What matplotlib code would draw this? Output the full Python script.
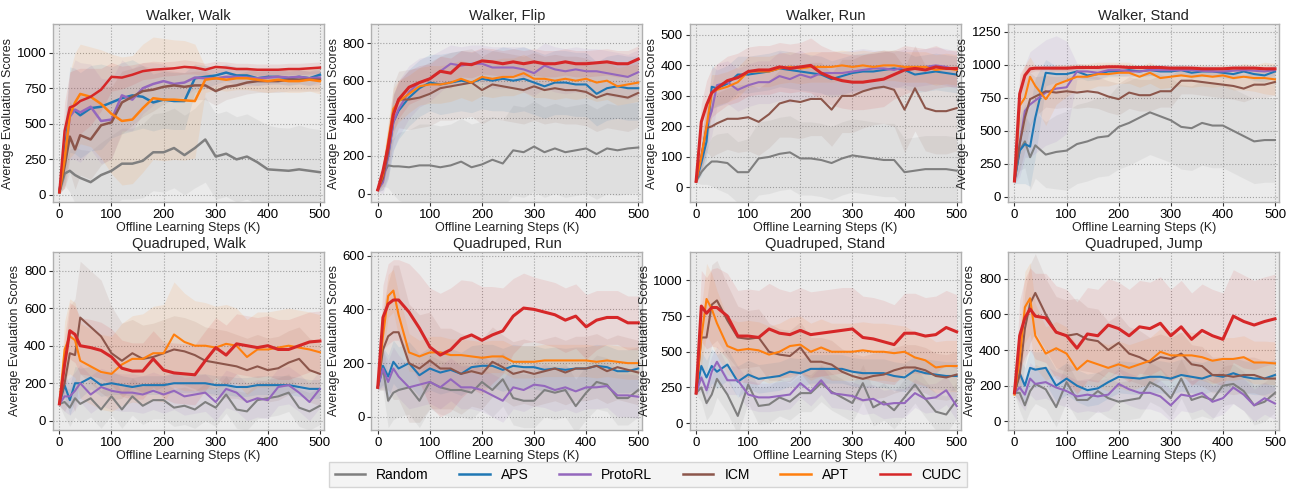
import numpy as np
import matplotlib
matplotlib.use('Agg')
import matplotlib.pyplot as plt

plt.rcParams['font.family'] = ['Liberation Sans', 'DejaVu Sans']

# training steps (K)
steps = [0, 10, 20, 30, 40, 60, 80, 100, 120, 140, 160, 180, 200, 220,
         240, 260, 280, 300, 320, 340, 360, 380, 400, 420, 440, 460, 480, 500]

methods = ['Random', 'APS', 'ProtoRL', 'ICM', 'APT', 'CUDC']
colors = ['#7f7f7f', '#1f77b4', '#9467bd', '#8c564b', '#ff7f0e', '#d62728']

titles = ['Walker, Walk', 'Walker, Flip', 'Walker, Run', 'Walker, Stand',
          'Quadruped, Walk', 'Quadruped, Run', 'Quadruped, Stand', 'Quadruped, Jump']

# ---- Walker, Walk
ww_random = [20, 150, 170, 140, 120, 90, 140, 170, 220, 220, 240, 300, 300, 330, 280, 330, 390, 270, 290, 250, 270, 230, 180, 175, 170, 180, 170, 160]
ww_aps = [20, 300, 600, 590, 560, 610, 620, 650, 680, 700, 690, 650, 670, 660, 660, 820, 830, 840, 860, 840, 840, 820, 830, 830, 820, 830, 820, 845]
ww_proto = [20, 250, 550, 600, 580, 620, 520, 530, 700, 670, 750, 780, 800, 780, 790, 825, 820, 820, 830, 830, 825, 820, 825, 830, 825, 830, 820, 825]
ww_icm = [20, 200, 410, 320, 420, 390, 490, 510, 650, 690, 730, 740, 760, 770, 760, 770, 770, 730, 760, 770, 790, 800, 800, 800, 810, 810, 810, 810]
ww_apt = [20, 250, 560, 650, 710, 690, 640, 570, 520, 530, 610, 680, 670, 670, 665, 660, 810, 820, 810, 820, 820, 810, 800, 810, 800, 800, 810, 800]
ww_cudc = [20, 450, 615, 630, 660, 690, 740, 830, 825, 845, 870, 880, 885, 890, 900, 895, 880, 900, 895, 885, 885, 880, 880, 880, 885, 885, 890, 895]
ww_random_sd = [10, 80, 150, 200, 200, 220, 230, 250, 250, 250, 260, 270, 280, 280, 280, 280, 300, 300, 300, 300, 300, 300, 310, 300, 300, 310, 300, 300]
ww_aps_sd = [10, 200, 300, 300, 300, 300, 300, 250, 250, 250, 220, 200, 200, 200, 200, 100, 80, 60, 60, 60, 60, 50, 50, 50, 50, 50, 50, 50]
ww_proto_sd = [10, 200, 300, 350, 350, 300, 300, 280, 250, 220, 180, 150, 120, 100, 100, 80, 70, 60, 60, 60, 60, 50, 50, 50, 50, 50, 50, 50]
ww_icm_sd = [10, 150, 250, 280, 280, 280, 280, 250, 220, 200, 180, 150, 120, 100, 100, 100, 100, 100, 90, 80, 80, 80, 80, 80, 80, 80, 80, 80]
ww_apt_sd = [10, 200, 300, 350, 350, 350, 380, 420, 450, 450, 450, 430, 430, 420, 420, 400, 90, 80, 80, 80, 80, 80, 80, 80, 80, 80, 80, 90]
ww_cudc_sd = [10, 200, 250, 250, 230, 200, 150, 100, 80, 70, 60, 60, 50, 50, 50, 45, 45, 40, 40, 40, 40, 40, 40, 40, 40, 40, 40, 40]

# ---- Walker, Flip
wf_random = [20, 100, 150, 145, 145, 140, 150, 150, 140, 150, 170, 140, 155, 180, 160, 230, 220, 250, 220, 240, 220, 230, 240, 210, 240, 230, 240, 245]
wf_aps = [20, 80, 200, 380, 440, 510, 560, 590, 580, 590, 600, 590, 610, 600, 610, 600, 610, 590, 570, 590, 590, 580, 580, 530, 560, 570, 560, 560]
wf_proto = [20, 60, 200, 380, 450, 540, 590, 610, 650, 690, 680, 690, 690, 670, 670, 670, 660, 640, 680, 660, 650, 660, 650, 650, 640, 630, 620, 645]
wf_icm = [20, 80, 220, 430, 500, 500, 510, 530, 560, 570, 580, 590, 550, 580, 570, 560, 550, 570, 550, 560, 550, 550, 540, 510, 530, 520, 510, 535]
wf_apt = [20, 100, 280, 450, 490, 530, 570, 580, 580, 590, 610, 590, 620, 610, 620, 620, 640, 610, 610, 600, 610, 600, 610, 590, 600, 570, 580, 590]
wf_cudc = [20, 120, 250, 420, 500, 565, 590, 610, 650, 640, 690, 685, 705, 700, 690, 700, 690, 700, 690, 690, 700, 690, 690, 695, 700, 690, 690, 715]
wf_random_sd = [10, 60, 120, 150, 180, 200, 220, 220, 220, 220, 230, 230, 230, 230, 230, 240, 240, 240, 240, 240, 240, 240, 240, 240, 240, 240, 240, 240]
wf_aps_sd = [10, 60, 120, 150, 150, 150, 150, 150, 160, 160, 160, 160, 160, 160, 170, 170, 170, 170, 170, 170, 170, 170, 170, 170, 170, 170, 170, 170]
wf_proto_sd = [10, 60, 120, 150, 150, 140, 130, 120, 110, 100, 100, 100, 100, 110, 110, 110, 120, 120, 120, 120, 120, 120, 120, 120, 120, 120, 120, 120]
wf_icm_sd = [10, 60, 120, 150, 150, 160, 160, 170, 170, 180, 180, 180, 180, 180, 180, 180, 180, 180, 180, 180, 180, 180, 180, 180, 180, 180, 180, 180]
wf_apt_sd = [10, 60, 100, 110, 110, 100, 100, 100, 100, 100, 100, 100, 100, 100, 100, 100, 100, 100, 100, 100, 100, 100, 100, 100, 100, 100, 100, 100]
wf_cudc_sd = [10, 60, 100, 100, 100, 90, 90, 80, 80, 80, 70, 70, 70, 70, 70, 70, 70, 70, 70, 70, 70, 70, 70, 70, 70, 70, 70, 70]

# ---- Walker, Run
wr_random = [20, 50, 70, 85, 85, 80, 50, 50, 95, 100, 110, 115, 95, 95, 90, 80, 95, 105, 100, 95, 90, 90, 50, 55, 60, 60, 60, 55]
wr_aps = [20, 80, 150, 330, 325, 340, 370, 370, 375, 380, 390, 385, 380, 375, 370, 355, 365, 375, 380, 380, 385, 390, 385, 370, 375, 380, 375, 370]
wr_proto = [20, 100, 200, 250, 335, 345, 320, 335, 345, 345, 365, 355, 370, 360, 375, 375, 375, 380, 385, 390, 390, 385, 395, 390, 395, 400, 395, 385]
wr_icm = [20, 100, 195, 200, 210, 225, 225, 230, 215, 240, 275, 285, 280, 290, 290, 255, 300, 300, 315, 325, 330, 320, 255, 325, 260, 250, 250, 260]
wr_apt = [20, 100, 200, 310, 320, 330, 345, 380, 380, 380, 390, 395, 390, 395, 395, 395, 400, 395, 400, 395, 400, 400, 395, 395, 395, 385, 390, 385]
wr_cudc = [20, 215, 270, 310, 325, 350, 360, 380, 385, 385, 395, 390, 395, 400, 375, 360, 350, 345, 345, 350, 355, 370, 385, 390, 385, 395, 390, 390]
wr_random_sd = [5, 40, 60, 80, 90, 100, 100, 110, 120, 120, 120, 120, 120, 120, 120, 120, 120, 120, 120, 120, 120, 120, 110, 110, 110, 110, 110, 110]
wr_aps_sd = [5, 40, 60, 70, 60, 60, 60, 60, 60, 60, 60, 60, 60, 60, 60, 60, 60, 60, 60, 60, 60, 60, 60, 60, 60, 60, 60, 60]
wr_proto_sd = [5, 50, 80, 80, 70, 70, 70, 70, 70, 70, 80, 80, 80, 70, 70, 70, 70, 70, 70, 60, 60, 60, 60, 60, 60, 60, 60, 60]
wr_icm_sd = [5, 50, 80, 100, 100, 100, 110, 110, 110, 110, 110, 120, 120, 120, 120, 120, 120, 120, 120, 120, 120, 120, 140, 140, 140, 140, 140, 140]
wr_apt_sd = [5, 50, 70, 60, 50, 50, 50, 50, 50, 50, 50, 50, 50, 50, 50, 50, 50, 50, 50, 50, 50, 50, 50, 50, 50, 50, 50, 50]
wr_cudc_sd = [5, 60, 80, 80, 80, 80, 80, 80, 80, 80, 80, 80, 80, 90, 90, 90, 90, 90, 90, 90, 90, 80, 80, 70, 70, 70, 60, 60]

# ---- Walker, Stand
ws_random = [120, 350, 420, 300, 390, 320, 340, 350, 400, 420, 450, 460, 530, 560, 600, 640, 610, 580, 530, 520, 560, 540, 540, 500, 460, 420, 430, 430]
ws_aps = [120, 350, 400, 380, 600, 940, 930, 930, 950, 920, 930, 950, 950, 960, 950, 960, 950, 950, 960, 940, 950, 950, 940, 930, 950, 930, 920, 950]
ws_proto = [120, 400, 650, 700, 730, 790, 820, 830, 950, 950, 940, 960, 960, 950, 950, 960, 960, 960, 960, 960, 955, 950, 950, 955, 960, 955, 950, 960]
ws_icm = [120, 400, 600, 740, 760, 800, 790, 800, 790, 800, 790, 760, 740, 790, 770, 770, 800, 800, 880, 880, 870, 860, 850, 840, 820, 850, 850, 870]
ws_apt = [120, 690, 750, 910, 840, 740, 850, 880, 910, 910, 930, 930, 940, 940, 910, 940, 900, 910, 920, 910, 920, 910, 920, 900, 910, 900, 900, 890]
ws_cudc = [120, 780, 920, 970, 975, 975, 975, 975, 980, 980, 980, 985, 985, 980, 980, 980, 980, 975, 975, 975, 970, 970, 970, 975, 975, 975, 970, 970]
ws_random_sd = [20, 150, 200, 250, 250, 250, 280, 300, 300, 300, 300, 300, 320, 320, 320, 320, 320, 320, 320, 320, 320, 320, 320, 320, 320, 320, 320, 320]
ws_aps_sd = [20, 250, 300, 300, 300, 100, 60, 50, 40, 40, 40, 40, 40, 40, 40, 40, 40, 40, 40, 40, 40, 40, 40, 40, 40, 50, 50, 50]
ws_proto_sd = [20, 250, 350, 400, 400, 400, 400, 350, 60, 50, 50, 40, 40, 40, 40, 40, 40, 40, 40, 40, 40, 40, 40, 40, 40, 40, 40, 40]
ws_icm_sd = [20, 200, 250, 200, 150, 120, 120, 120, 120, 120, 120, 120, 120, 120, 120, 120, 120, 120, 100, 100, 100, 100, 100, 100, 100, 100, 100, 100]
ws_apt_sd = [20, 200, 250, 150, 150, 200, 150, 120, 100, 100, 90, 90, 80, 80, 80, 80, 80, 80, 80, 80, 80, 80, 80, 90, 100, 100, 120, 120]
ws_cudc_sd = [20, 150, 80, 30, 20, 20, 20, 20, 20, 20, 20, 20, 20, 20, 20, 20, 20, 20, 20, 20, 20, 20, 20, 20, 20, 20, 20, 20]

# ---- Quadruped, Walk
qw_random = [90, 100, 70, 120, 90, 120, 60, 130, 60, 130, 80, 110, 110, 70, 80, 60, 100, 70, 140, 60, 50, 110, 120, 130, 150, 70, 50, 80]
qw_aps = [90, 190, 110, 200, 200, 230, 190, 200, 190, 180, 190, 190, 190, 200, 200, 200, 200, 190, 190, 180, 180, 190, 190, 190, 190, 180, 170, 170]
qw_proto = [90, 130, 130, 160, 200, 140, 180, 160, 150, 150, 140, 160, 140, 160, 130, 140, 150, 100, 170, 150, 100, 120, 110, 180, 190, 150, 100, 170]
qw_icm = [90, 200, 360, 350, 550, 500, 450, 360, 320, 360, 330, 340, 360, 380, 370, 350, 320, 310, 300, 290, 270, 290, 270, 280, 310, 330, 270, 250]
qw_apt = [90, 380, 450, 430, 320, 290, 260, 250, 300, 330, 330, 360, 360, 460, 420, 400, 400, 390, 410, 400, 340, 380, 380, 390, 400, 390, 380, 365]
qw_cudc = [90, 300, 480, 460, 400, 390, 375, 340, 280, 265, 265, 330, 270, 255, 250, 245, 320, 390, 350, 410, 400, 390, 400, 380, 380, 400, 420, 425]
qw_random_sd = [10, 80, 100, 100, 100, 100, 100, 100, 100, 100, 100, 100, 100, 100, 100, 100, 100, 100, 100, 100, 100, 100, 100, 100, 100, 100, 100, 100]
qw_aps_sd = [10, 60, 80, 90, 80, 60, 60, 60, 50, 50, 50, 50, 50, 50, 50, 50, 50, 50, 50, 50, 50, 50, 50, 50, 50, 50, 50, 50]
qw_proto_sd = [10, 80, 100, 100, 100, 100, 100, 100, 100, 100, 100, 100, 100, 100, 100, 100, 100, 100, 100, 100, 100, 100, 100, 100, 100, 100, 100, 100]
qw_icm_sd = [10, 150, 250, 300, 300, 300, 300, 250, 200, 180, 180, 180, 180, 180, 180, 180, 180, 180, 180, 170, 170, 170, 170, 170, 170, 170, 170, 170]
qw_apt_sd = [10, 150, 200, 200, 200, 200, 200, 200, 220, 230, 240, 250, 260, 280, 260, 240, 230, 220, 210, 200, 200, 200, 200, 200, 200, 200, 200, 200]
qw_cudc_sd = [10, 150, 150, 150, 150, 150, 150, 150, 150, 150, 150, 150, 150, 160, 160, 160, 160, 160, 160, 160, 160, 160, 160, 160, 160, 160, 160, 160]

# ---- Quadruped, Run
qr_random = [110, 180, 60, 90, 100, 110, 60, 130, 110, 100, 100, 90, 130, 100, 140, 70, 60, 60, 100, 90, 100, 40, 90, 130, 120, 70, 70, 100]
qr_aps = [110, 190, 150, 205, 180, 200, 155, 180, 165, 175, 160, 185, 190, 190, 175, 190, 185, 185, 175, 180, 175, 180, 180, 190, 185, 170, 170, 180]
qr_proto = [110, 180, 130, 180, 150, 110, 120, 130, 110, 140, 110, 110, 100, 80, 60, 110, 100, 120, 115, 100, 110, 95, 110, 110, 115, 80, 80, 75]
qr_icm = [110, 250, 300, 315, 315, 200, 180, 210, 180, 180, 160, 170, 160, 205, 185, 160, 170, 160, 170, 180, 165, 180, 180, 190, 170, 185, 175, 165]
qr_apt = [110, 300, 450, 470, 380, 240, 225, 240, 240, 230, 230, 225, 220, 225, 225, 205, 205, 205, 210, 210, 210, 210, 210, 205, 210, 205, 200, 200]
qr_cudc = [110, 370, 420, 435, 435, 390, 330, 260, 230, 250, 290, 305, 285, 305, 320, 375, 405, 400, 390, 380, 360, 375, 335, 360, 370, 370, 350, 350]
qr_random_sd = [10, 80, 100, 100, 100, 100, 100, 100, 100, 100, 100, 100, 100, 100, 100, 100, 100, 100, 100, 100, 100, 100, 100, 100, 100, 100, 100, 100]
qr_aps_sd = [10, 70, 80, 80, 80, 80, 80, 80, 80, 80, 80, 80, 80, 80, 80, 80, 80, 80, 80, 80, 80, 80, 80, 80, 80, 80, 80, 80]
qr_proto_sd = [10, 70, 80, 80, 80, 80, 80, 80, 80, 80, 80, 80, 80, 80, 80, 80, 80, 80, 80, 80, 80, 80, 80, 80, 80, 80, 80, 80]
qr_icm_sd = [10, 150, 200, 250, 250, 220, 200, 180, 150, 150, 150, 130, 130, 130, 120, 120, 120, 120, 120, 120, 120, 120, 120, 120, 120, 120, 120, 120]
qr_apt_sd = [10, 80, 80, 80, 80, 70, 60, 60, 60, 60, 60, 60, 60, 60, 60, 60, 60, 60, 60, 60, 60, 60, 60, 60, 60, 60, 60, 60]
qr_cudc_sd = [10, 120, 150, 150, 150, 180, 200, 220, 230, 230, 220, 200, 200, 180, 160, 140, 130, 120, 120, 120, 120, 120, 120, 110, 100, 100, 100, 100]

# ---- Quadruped, Stand
qs_random = [210, 250, 140, 200, 310, 200, 50, 270, 120, 130, 180, 150, 210, 210, 280, 220, 180, 140, 280, 110, 150, 90, 180, 270, 170, 80, 60, 160]
qs_aps = [210, 400, 320, 400, 360, 410, 290, 340, 310, 320, 330, 360, 350, 380, 380, 380, 380, 360, 350, 350, 350, 330, 320, 370, 350, 340, 330, 330]
qs_proto = [210, 320, 230, 360, 430, 300, 300, 200, 180, 180, 190, 200, 280, 220, 300, 210, 200, 190, 160, 170, 130, 140, 140, 210, 170, 180, 230, 120]
qs_icm = [210, 600, 600, 830, 860, 720, 600, 590, 600, 500, 480, 470, 530, 430, 430, 410, 360, 330, 310, 330, 340, 370, 390, 390, 370, 330, 320, 340]
qs_apt = [210, 600, 870, 800, 700, 540, 510, 520, 510, 480, 500, 540, 550, 500, 530, 500, 500, 500, 510, 500, 500, 490, 500, 460, 440, 390, 400, 400]
qs_cudc = [210, 820, 770, 810, 810, 750, 610, 610, 600, 660, 630, 620, 650, 620, 630, 640, 650, 660, 600, 590, 570, 550, 630, 630, 610, 620, 670, 640]
qs_random_sd = [10, 100, 120, 130, 130, 130, 130, 130, 130, 130, 130, 130, 130, 130, 130, 130, 130, 130, 130, 130, 130, 130, 130, 130, 130, 130, 130, 130]
qs_aps_sd = [10, 100, 120, 120, 120, 110, 110, 100, 100, 100, 100, 100, 100, 100, 100, 100, 100, 100, 100, 100, 100, 100, 100, 100, 100, 100, 100, 100]
qs_proto_sd = [10, 100, 110, 110, 110, 100, 100, 100, 100, 100, 100, 100, 100, 100, 100, 100, 100, 100, 100, 100, 100, 100, 100, 100, 100, 100, 100, 100]
qs_icm_sd = [10, 200, 250, 280, 280, 250, 220, 200, 200, 200, 180, 180, 180, 170, 170, 170, 160, 160, 160, 160, 160, 160, 160, 160, 160, 160, 160, 160]
qs_apt_sd = [10, 200, 250, 250, 230, 200, 200, 200, 200, 200, 200, 200, 200, 200, 200, 200, 200, 200, 200, 200, 200, 200, 180, 180, 180, 180, 180, 180]
qs_cudc_sd = [10, 250, 250, 270, 280, 300, 320, 330, 330, 320, 310, 300, 300, 300, 300, 300, 300, 290, 290, 290, 290, 280, 280, 280, 270, 270, 260, 260]

# ---- Quadruped, Jump
qj_random = [160, 160, 90, 170, 210, 180, 80, 220, 120, 120, 170, 130, 110, 120, 130, 220, 190, 130, 240, 120, 140, 120, 200, 210, 170, 90, 110, 160]
qj_aps = [160, 270, 200, 300, 290, 300, 200, 240, 200, 175, 185, 220, 250, 245, 240, 250, 250, 240, 260, 250, 240, 260, 250, 270, 250, 240, 240, 260]
qj_proto = [160, 190, 150, 240, 210, 220, 190, 170, 140, 150, 140, 150, 210, 180, 160, 160, 140, 90, 150, 140, 160, 110, 130, 190, 150, 90, 130, 100]
qj_icm = [160, 260, 520, 660, 720, 600, 500, 480, 490, 460, 450, 400, 440, 380, 360, 330, 360, 350, 380, 320, 310, 260, 260, 250, 260, 260, 240, 240]
qj_apt = [150, 350, 640, 690, 480, 380, 410, 380, 290, 340, 320, 300, 320, 300, 320, 340, 390, 370, 370, 370, 360, 340, 350, 350, 360, 330, 330, 325]
qj_cudc = [160, 480, 580, 630, 590, 580, 500, 480, 410, 490, 480, 540, 520, 480, 530, 520, 550, 480, 530, 460, 510, 480, 460, 590, 560, 540, 560, 575]
qj_random_sd = [10, 100, 100, 110, 110, 110, 110, 110, 110, 110, 110, 110, 110, 110, 110, 110, 110, 110, 110, 110, 110, 110, 110, 110, 110, 110, 110, 110]
qj_aps_sd = [10, 90, 100, 100, 100, 90, 90, 90, 90, 90, 90, 90, 90, 90, 90, 90, 90, 90, 90, 90, 90, 90, 90, 90, 90, 90, 90, 90]
qj_proto_sd = [10, 90, 90, 90, 90, 90, 90, 90, 90, 90, 90, 90, 90, 90, 90, 90, 90, 90, 90, 90, 90, 90, 90, 90, 90, 90, 90, 90]
qj_icm_sd = [10, 150, 200, 220, 220, 200, 200, 200, 200, 180, 180, 160, 160, 150, 150, 140, 130, 120, 120, 110, 110, 100, 100, 100, 100, 100, 100, 100]
qj_apt_sd = [10, 150, 200, 200, 180, 150, 150, 150, 130, 130, 130, 130, 130, 130, 130, 130, 130, 130, 130, 130, 130, 130, 120, 120, 120, 120, 120, 120]
qj_cudc_sd = [10, 200, 220, 230, 240, 250, 260, 260, 260, 260, 260, 260, 260, 260, 260, 260, 260, 260, 260, 260, 260, 260, 260, 260, 260, 250, 250, 250]

panels = [
    ([ww_random, ww_aps, ww_proto, ww_icm, ww_apt, ww_cudc],
     [ww_random_sd, ww_aps_sd, ww_proto_sd, ww_icm_sd, ww_apt_sd, ww_cudc_sd]),
    ([wf_random, wf_aps, wf_proto, wf_icm, wf_apt, wf_cudc],
     [wf_random_sd, wf_aps_sd, wf_proto_sd, wf_icm_sd, wf_apt_sd, wf_cudc_sd]),
    ([wr_random, wr_aps, wr_proto, wr_icm, wr_apt, wr_cudc],
     [wr_random_sd, wr_aps_sd, wr_proto_sd, wr_icm_sd, wr_apt_sd, wr_cudc_sd]),
    ([ws_random, ws_aps, ws_proto, ws_icm, ws_apt, ws_cudc],
     [ws_random_sd, ws_aps_sd, ws_proto_sd, ws_icm_sd, ws_apt_sd, ws_cudc_sd]),
    ([qw_random, qw_aps, qw_proto, qw_icm, qw_apt, qw_cudc],
     [qw_random_sd, qw_aps_sd, qw_proto_sd, qw_icm_sd, qw_apt_sd, qw_cudc_sd]),
    ([qr_random, qr_aps, qr_proto, qr_icm, qr_apt, qr_cudc],
     [qr_random_sd, qr_aps_sd, qr_proto_sd, qr_icm_sd, qr_apt_sd, qr_cudc_sd]),
    ([qs_random, qs_aps, qs_proto, qs_icm, qs_apt, qs_cudc],
     [qs_random_sd, qs_aps_sd, qs_proto_sd, qs_icm_sd, qs_apt_sd, qs_cudc_sd]),
    ([qj_random, qj_aps, qj_proto, qj_icm, qj_apt, qj_cudc],
     [qj_random_sd, qj_aps_sd, qj_proto_sd, qj_icm_sd, qj_apt_sd, qj_cudc_sd]),
]

ylims = [(-50, 1200), (-45, 900), (-48, 535), (-40, 1308),
         (-48, 900), (-48, 614), (-47, 1200), (-47, 950)]
yticks = [range(0, 1001, 250), range(0, 801, 200), range(0, 501, 100), range(0, 1251, 250),
          range(0, 801, 200), range(0, 601, 200), range(0, 1001, 250), range(0, 801, 200)]

fig, axes = plt.subplots(2, 4, figsize=(12.96, 4.94), dpi=100)
fig.subplots_adjust(left=0.041, right=0.987, top=0.951, bottom=0.130,
                    wspace=0.175, hspace=0.28)

x = np.array(steps)
for i, ax in enumerate(axes.flat):
    means, sds = panels[i]
    ax.set_facecolor('#ebebeb')
    for j in range(len(methods)):
        m = np.array(means[j])
        s = np.array(sds[j])
        ax.fill_between(x, m - s, m + s, color=colors[j], alpha=0.1, linewidth=0)
    for j in range(len(methods)):
        lw = 2.2 if methods[j] == 'CUDC' else 1.5
        ax.plot(x, means[j], color=colors[j], linewidth=lw, label=methods[j])

    ax.set_xlim(-12, 508)
    ax.set_ylim(*ylims[i])
    ax.set_xticks([0, 100, 200, 300, 400, 500])
    ax.set_yticks(list(yticks[i]))
    ax.grid(True, linestyle=':', color='#a0a0a0', linewidth=0.8)
    ax.set_axisbelow(True)
    for sp in ax.spines.values():
        sp.set_color('#b0b0b0')
        sp.set_linewidth(1.0)
    ax.tick_params(labelsize=9.5, length=3, width=0.8, color='#333333', pad=2)
    ax.set_title(titles[i], fontsize=10.5, color='#222222', pad=3)
    ax.set_xlabel('Offline Learning Steps (K)', fontsize=9, color='#222222', labelpad=1)
    ax.set_ylabel('Average Evaluation Scores', fontsize=9, color='#222222', labelpad=2)

handles, labels = axes[0, 0].get_legend_handles_labels()
for h in handles:
    h.set_linewidth(1.8)
fig.legend(handles, labels, loc='lower center', bbox_to_anchor=(0.5, 0.0), ncol=6,
           fontsize=10, frameon=True, facecolor='#f2f2f2', edgecolor='#cccccc',
           handlelength=2.2, columnspacing=2.2, fancybox=False)

plt.savefig('out.png', dpi=100, facecolor='white')
